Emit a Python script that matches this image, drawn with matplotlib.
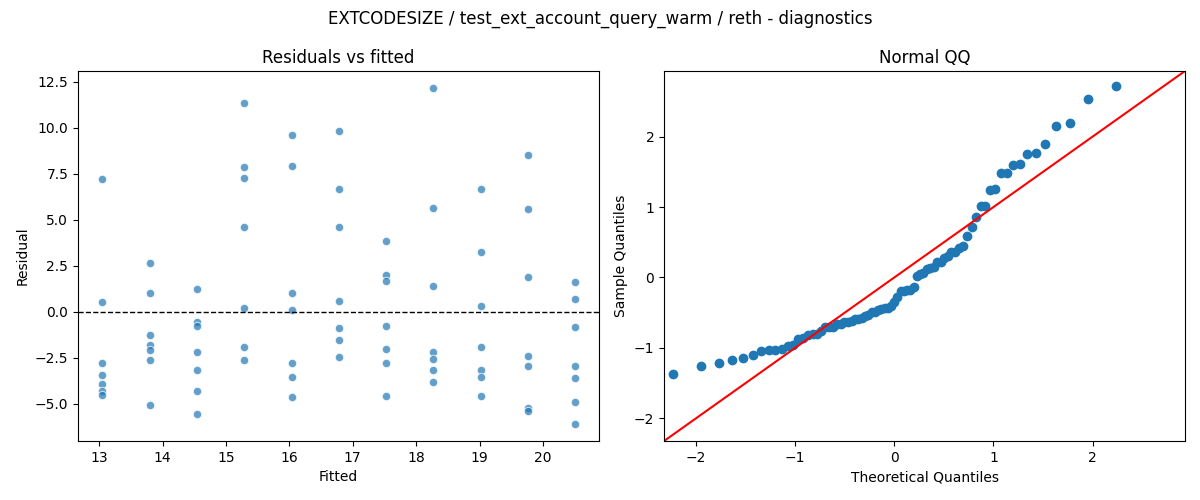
import numpy as np
import matplotlib
matplotlib.use("Agg")
import matplotlib.pyplot as plt
from statistics import NormalDist

# fitted value of each group (7 runs per group)
fitted_levels = [13.04, 13.80, 14.54, 15.29, 16.04, 16.78, 17.53, 18.27, 19.02, 19.77, 20.51]

# residuals, one list per fitted level
residuals = [
    [7.20, 0.54, -2.81, -3.41, -3.90, -4.31, -4.55],
    [2.65, 1.03, -1.24, -1.79, -2.06, -2.60, -5.09],
    [1.24, -0.58, -0.76, -2.19, -3.16, -4.28, -5.58],
    [11.36, 7.85, 7.25, 4.60, 0.23, -1.89, -2.60],
    [9.63, 7.95, 1.03, 0.12, -2.81, -3.57, -4.65],
    [9.85, 6.66, 4.60, 0.60, -0.87, -1.52, -2.44],
    [3.84, 2.00, 1.66, -0.76, -2.00, -2.76, -4.60],
    [12.18, 5.63, 1.41, -2.16, -2.54, -3.16, -3.84],
    [6.66, 3.25, 0.32, -1.89, -3.16, -3.57, -4.60],
    [8.50, 5.57, 1.91, -2.38, -2.92, -5.23, -5.41],
    [1.62, 0.70, -0.81, -2.92, -3.62, -4.92, -6.11],
]

qq_limits = [-2.32, 2.93]


fitted = []
resid = []
for lev, grp in zip(fitted_levels, residuals):
    for r in grp:
        fitted.append(lev)
        resid.append(r)
fitted = np.array(fitted)
resid = np.array(resid)

# standardised residuals for the QQ panel
z = np.sort((resid - resid.mean()) / resid.std(ddof=1))
n = len(z)
nd = NormalDist()
theo = np.array([nd.inv_cdf(i / (n + 1)) for i in range(1, n + 1)])

fig, (ax1, ax2) = plt.subplots(1, 2, figsize=(12, 5), dpi=100)
fig.subplots_adjust(left=0.065, right=0.9875, top=0.858, bottom=0.118, wspace=0.125)

ax1.scatter(fitted, resid, s=36, color='#1f77b4', alpha=0.7, edgecolor='white', linewidth=0.75)
ax1.axhline(0, color='black', linestyle='--', linewidth=1)
ax1.set_title('Residuals vs fitted', fontsize=12)
ax1.set_xlabel('Fitted')
ax1.set_ylabel('Residual')

ax2.plot(theo, z, 'o', color='#1f77b4', markersize=6)
ax2.plot(qq_limits, qq_limits, 'r', linewidth=1.5)
ax2.set_xlim(qq_limits)
ax2.set_ylim(qq_limits)
ax2.set_title('Normal QQ', fontsize=12)
ax2.set_xlabel('Theoretical Quantiles')
ax2.set_ylabel('Sample Quantiles')

fig.suptitle('EXTCODESIZE / test_ext_account_query_warm / reth - diagnostics', fontsize=12)
fig.savefig('out.png')
